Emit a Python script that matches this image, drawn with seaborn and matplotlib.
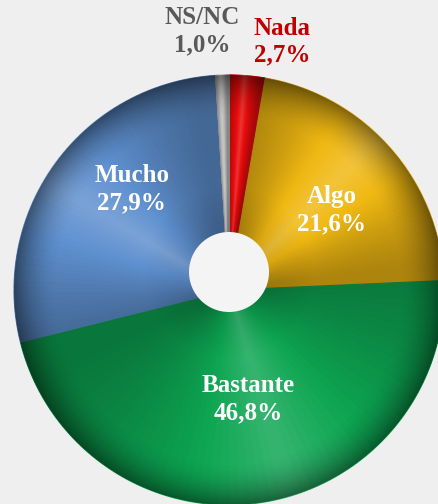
import numpy as np
import matplotlib.pyplot as plt
import matplotlib.colors as mcolors
from matplotlib.patches import Circle
import seaborn as sns

sns.set_style("white")
plt.rcParams['font.family'] = ['Liberation Serif', 'DejaVu Serif']

# data (clockwise from 12 o'clock)
categories = ["Nada", "Algo", "Bastante", "Mucho", "NS/NC"]
values = [2.7, 21.6, 46.8, 27.9, 1.0]
base_colors = ["#e80c0c", "#f0b812", "#0da552", "#5e90cf", "#bcbcbc"]
text_colors = ["#c00000", "white", "white", "white", "#595959"]
# label anchor (radius, angle in deg) relative to pie centre
label_pos = [(254, 78), (130, 38), (111, -80), (140, 134), (260, 96)]

bg = "#efefef"
R = 215
n_sub = 60

fig = plt.figure(figsize=(4.39, 5.04), dpi=100)
fig.patch.set_facecolor(bg)
ax = fig.add_axes([0, 0, 1, 1])
ax.set_facecolor(bg)


def shade(c, f):
    r, g, b = mcolors.to_rgb(c)
    if f < 0:
        return (r * (1 + f), g * (1 + f), b * (1 + f))
    return (r + (1 - r) * f, g + (1 - g) * f, b + (1 - b) * f)


# split each slice into thin sub-wedges to fake the ridge shading
sub_vals, sub_cols = [], []
for v, c in zip(values, base_colors):
    for k in range(n_sub):
        t = (k + 0.5) / n_sub
        ridge = max(0.0, 1 - abs(t - 0.45) * 2)
        sub_vals.append(v / n_sub)
        sub_cols.append(shade(c, -0.28 + 0.45 * ridge ** 1.3))

ax.pie(sub_vals, colors=sub_cols, radius=R, startangle=90, counterclock=False,
       wedgeprops=dict(linewidth=0.8, antialiased=True))
for w in ax.patches:
    w.set_edgecolor(w.get_facecolor())

# radial darkening towards the rim
yy, xx = np.mgrid[-214:291, -229:211]
rr = np.hypot(xx, yy) / R
alpha = np.clip((rr - 0.8) / 0.2, 0, 1) ** 1.8 * 0.45
alpha += np.clip((0.4 - np.hypot(xx, yy - 18) / R) / 0.25, 0, 1) * 0.12
img = np.zeros(xx.shape + (4,))
img[..., 3] = alpha
im = ax.imshow(img, extent=(-229, 210, -214, 290), origin="lower", zorder=3)
im.set_clip_path(Circle((0, 0), R, transform=ax.transData))

# hole
ax.add_patch(Circle((0, 18), 40, facecolor="#f4f4f4", edgecolor="none", zorder=4))

for cat, v, col, (rad, ang) in zip(categories, values, text_colors, label_pos):
    x = rad * np.cos(np.radians(ang))
    y = rad * np.sin(np.radians(ang))
    ax.text(x, y, f"{cat}\n{v:.1f}%".replace(".", ","), ha="center", va="center",
            color=col, fontsize=18, fontweight="bold", linespacing=1.22, zorder=5)

ax.set_xlim(-229, 210)
ax.set_ylim(-214, 290)
ax.set_aspect("equal")
ax.axis("off")

plt.savefig("out.png", dpi=100, facecolor=bg)
plt.close()
